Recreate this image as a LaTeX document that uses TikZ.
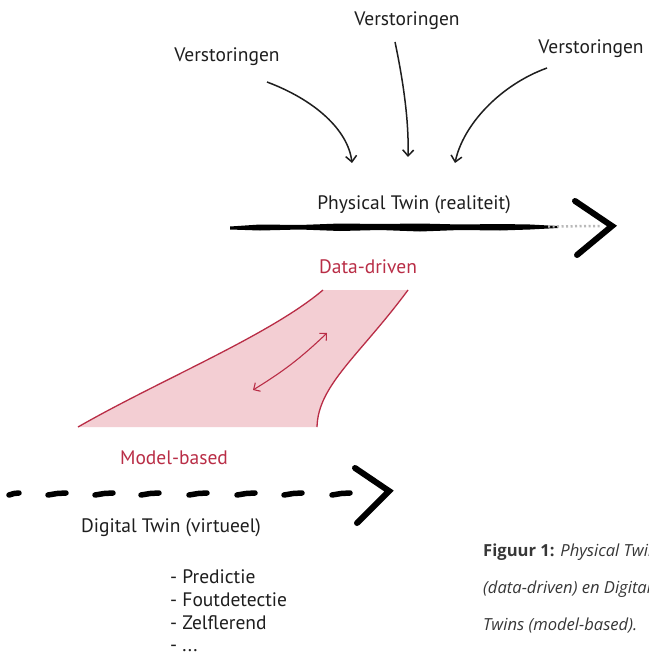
\documentclass[tikz,border=0pt]{standalone}
\usepackage{fontspec}
\setmainfont{PT Sans}
\newfontfamily\capfont{Open Sans}
\usetikzlibrary{arrows.meta}
\definecolor{ink}{RGB}{30,30,30}
\definecolor{dred}{RGB}{185,45,70}
\definecolor{pinkfill}{RGB}{243,206,211}
\definecolor{capgray}{RGB}{55,55,55}
\begin{document}
\begin{tikzpicture}[x=1pt,y=-1pt,
  lbl/.style={font=\fontsize{19.5}{22}\selectfont, text=ink, inner sep=0pt},
  redlbl/.style={lbl, text=dred},
  listitem/.style={lbl, anchor=base west},
  distarrow/.style={draw=ink, line width=1.5pt, -{Straight Barb[length=6pt,width=11pt]}},
  brushdash/.style={line width=5.5pt, draw=black, line cap=round},
  chev/.style={line width=6pt, draw=black, line cap=round, line join=miter},
  redline/.style={draw=dred, line width=1.3pt},
  capline/.style={font=\capfont\fontsize{16.6}{19}\selectfont, text=capgray, anchor=base west, inner sep=0pt},
  ]
\clip (0,0) rectangle (648,655);
\fill[white] (0,0) rectangle (648,655);

% disturbances
\node[lbl] (v1) at (227,57) {Verstoringen};
\node[lbl] (v2) at (407,21) {Verstoringen};
\node[lbl] (v3) at (591,49) {Verstoringen};
\coordinate (a1s) at (267,82);
\coordinate (a1e) at (352,163);
\coordinate (a2s) at (395,42);
\coordinate (a2e) at (408,157);
\coordinate (a3s) at (547,68);
\coordinate (a3e) at (455,163);
\draw[distarrow] (a1s) .. controls (315,100) and (348,130) .. (a1e);
\draw[distarrow] (a2s) .. controls (403,80) and (409,120) .. (a2e);
\draw[distarrow] (a3s) .. controls (500,85) and (463,125) .. (a3e);

% physical twin
\node[lbl] (pt) at (414,205) {Physical Twin (realiteit)};
\fill[black] (230,226.5) -- (260,224.5) -- (300,225) -- (340,223.5) -- (380,224) -- (420,223.5) -- (460,224.5) -- (500,224) -- (530,224.5) -- (558,226)
  -- (558,228) -- (530,229.5) -- (500,230.5) -- (460,230) -- (420,231.5) -- (380,230) -- (340,231) -- (300,229.5) -- (260,230.5) -- (230,229.5) -- cycle;
\draw[gray!55, line width=2.5pt, dash pattern=on 2pt off 2.5pt] (548,226.5) -- (600,226);
\coordinate (ptip) at (612,226);
\coordinate (pctop) at (575,201);
\coordinate (pcbot) at (577,255);
\draw[chev] (pctop) -- (ptip) -- (pcbot);

% data-driven / model-based band
\node[redlbl] (dd) at (368,267) {Data-driven};
\coordinate (bl) at (78,427);
\coordinate (br) at (317,427);
\coordinate (tl) at (323,290);
\coordinate (tr) at (408,290);
\fill[pinkfill] (tl) .. controls (270,335) and (160,380) .. (bl) -- (br) .. controls (318,385) and (360,355) .. (tr) -- cycle;
\draw[redline] (tl) .. controls (270,335) and (160,380) .. (bl);
\draw[redline] (tr) .. controls (360,355) and (318,385) .. (br);
\coordinate (da1) at (253,390);
\coordinate (da2) at (327,333);
\draw[draw=dred, line width=1.1pt, {Straight Barb[length=5pt,width=10pt]}-{Straight Barb[length=5pt,width=10pt]}] (da1) to[bend right=6] (da2);
\node[redlbl] (mb) at (174,458) {Model-based};

% digital twin
\foreach \x/\l in {14/5, 57/9, 104/9, 150/9, 198/9, 246/9, 293/9, 341/9}{
  \draw[brushdash] (\x-\l,495) -- (\x,493.5) -- (\x+\l,493);
}
\coordinate (dtip) at (389,491);
\coordinate (dctop) at (355,468);
\coordinate (dcbot) at (357,523);
\draw[chev] (dctop) -- (dtip) -- (dcbot);
\node[lbl] (dt) at (171,528) {Digital Twin (virtueel)};

\node[listitem] (l1) at (170,583) {- Predictie};
\node[listitem] (l2) at (170,606) {- Foutdetectie};
\node[listitem] (l3) at (170,629) {- Zelflerend};
\node[listitem] (l4) at (170,651) {- ...};

% caption
\node[capline] (c1) at (483,556) {\textbf{Figuur 1:} \textit{Physical Twins}};
\node[capline] (c2) at (483,593) {\textit{(data-driven) en Digital}};
\node[capline] (c3) at (483,630) {\textit{Twins (model-based).}};
\end{tikzpicture}
\end{document}
